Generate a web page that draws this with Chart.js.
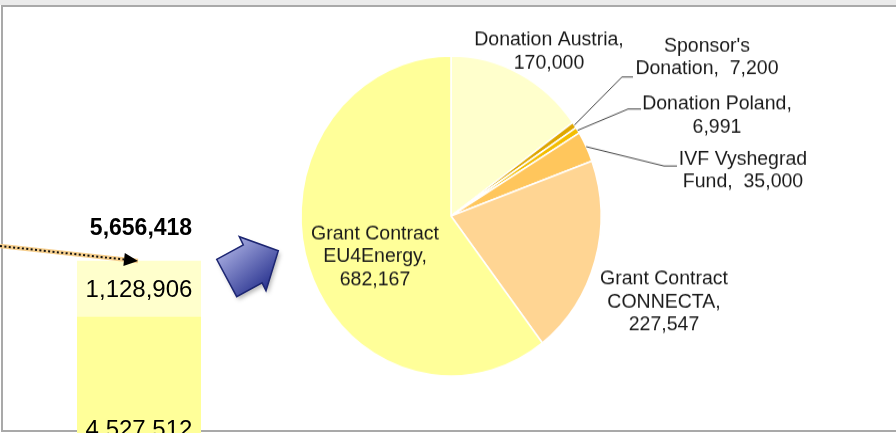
<!DOCTYPE html>
<html>
<head>
<meta charset="utf-8">
<script src="https://cdn.jsdelivr.net/npm/chart.js@4.4.1/dist/chart.umd.min.js"></script>
<style>
  html,body{margin:0;padding:0;background:#fff;}
  #wrap{position:relative;width:896px;height:433px;overflow:hidden;background:#fff;}
  #strip{position:absolute;left:0;top:0;width:896px;height:5px;background:#ebebeb;}
  #frame{position:absolute;left:1px;top:5px;width:1000px;height:423px;border:2px solid #a9a9a9;}
  #pieBox{position:absolute;left:0;top:0;width:896px;height:433px;transform:scaleY(1.067);transform-origin:451px 216px;}
  #barBox{position:absolute;left:0;top:0;width:896px;height:542px;}
</style>
</head>
<body>
<div id="wrap">
  <div id="strip"></div>
  <div id="frame"></div>
  <div id="pieBox"><canvas id="pieChart"></canvas></div>
  <div id="barBox"><canvas id="barChart"></canvas></div>
</div>
<script>
// pie data
const pieNames = ['Donation Austria', "Sponsor's\nDonation", 'Donation Poland', 'IVF Vyshegrad\nFund', 'Grant Contract\nCONNECTA', 'Grant Contract\nEU4Energy'];
const pieValues = [170000, 7200, 6991, 35000, 227547, 682167];
const valueInline = [false, true, false, true, false, false];
const pieColors = ['#ffffcc', '#dea600', '#f4bd00', '#ffc65c', '#ffd593', '#ffff99'];

// bar data (stacked, bottom first)
const barCategories = ['Total'];
const barLower = [4527512];
const barUpper = [1128906];

// layout of pie labels (page coords): centre x, first line y
const labelPos = [[549, 40], [707, 46], [717, 104], [743, 159], [664, 279], [375, 234]];
// leader lines: elbow x, elbow y, end x
const leaders = [null, [622, 77, 633], [628, 109, 641], [664, 166, 677], null, null];

const K = 1.067, CY = 216;
const fmt = v => v.toLocaleString('en-US');

const pieLabels = {
  id: 'pieLabels',
  afterDraw(chart) {
    const ctx = chart.ctx;
    const arcs = chart.getDatasetMeta(0).data;
    ctx.save();
    ctx.translate(0, CY); ctx.scale(1, 1 / K); ctx.translate(0, -CY);
    arcs.forEach((arc, i) => {
      const p = arc.getProps(['x', 'y', 'startAngle', 'endAngle', 'outerRadius']);
      const mid = (p.startAngle + p.endAngle) / 2;
      const sx = p.x + Math.cos(mid) * p.outerRadius;
      const sy = CY + (p.y + Math.sin(mid) * p.outerRadius - CY) * K;
      const ld = leaders[i];
      if (ld) {
        ctx.strokeStyle = '#404040'; ctx.lineWidth = 1;
        ctx.beginPath(); ctx.moveTo(sx, sy); ctx.lineTo(ld[0], ld[1]); ctx.lineTo(ld[2], ld[1]); ctx.stroke();
      }
      const txt = pieNames[i] + ',' + (valueInline[i] ? '  ' : '\n') + fmt(pieValues[i]);
      ctx.fillStyle = '#1a1a1a';
      ctx.font = '19.5px "Liberation Sans", Arial, sans-serif';
      ctx.textAlign = 'center'; ctx.textBaseline = 'middle';
      txt.split('\n').forEach((line, j) => ctx.fillText(line, labelPos[i][0], labelPos[i][1] + j * 23));
    });
    ctx.restore();
  }
};

new Chart(document.getElementById('pieChart'), {
  type: 'pie',
  data: {
    labels: pieNames,
    datasets: [{data: pieValues, backgroundColor: pieColors, borderColor: '#ffffff', borderWidth: 1.5, hoverOffset: 0}]
  },
  options: {
    responsive: true, maintainAspectRatio: false, animation: false, events: [],
    radius: 150,
    layout: {padding: {left: 301, right: 295, top: CY - 150, bottom: 433 - CY - 150}},
    plugins: {legend: {display: false}, tooltip: {enabled: false}}
  },
  plugins: [pieLabels]
});

const barExtras = {
  id: 'barExtras',
  afterDatasetsDraw(chart) {
    const ctx = chart.ctx;
    ctx.save();
    ctx.fillStyle = '#000'; ctx.textAlign = 'center'; ctx.textBaseline = 'middle';
    ctx.font = '24px "Liberation Sans", Arial, sans-serif';
    let top = null;
    chart.data.datasets.forEach((ds, d) => {
      chart.getDatasetMeta(d).data.forEach((bar, i) => {
        ctx.fillText(fmt(ds.data[i]), bar.x, (bar.y + bar.base) / 2 + 1);
        top = bar;
      });
    });
    const total = barLower[0] + barUpper[0];
    ctx.font = 'bold 23px "Liberation Sans", Arial, sans-serif';
    ctx.fillText(fmt(total), top.x + 2, top.y - 32);

    // dotted pointer
    const x0 = 0, y0 = 246, x1 = 138, y1 = 261;
    const ang = Math.atan2(y1 - y0, x1 - x0);
    const hx = x1 - Math.cos(ang) * 14, hy = y1 - Math.sin(ang) * 14;
    ctx.lineCap = 'butt';
    ctx.strokeStyle = '#f6cf8e'; ctx.lineWidth = 4.5;
    ctx.beginPath(); ctx.moveTo(x0, y0); ctx.lineTo(x1, y1); ctx.stroke();
    ctx.strokeStyle = '#111'; ctx.lineWidth = 2; ctx.setLineDash([2, 2.4]);
    ctx.beginPath(); ctx.moveTo(x0, y0); ctx.lineTo(hx, hy); ctx.stroke();
    ctx.setLineDash([]);
    ctx.fillStyle = '#000';
    ctx.beginPath();
    ctx.moveTo(x1, y1);
    ctx.lineTo(hx + Math.sin(ang) * 6.5, hy - Math.cos(ang) * 6.5);
    ctx.lineTo(hx - Math.sin(ang) * 6.5, hy + Math.cos(ang) * 6.5);
    ctx.closePath(); ctx.fill();

    // blue block arrow
    const pts = [[216.7, 259.3], [243.3, 244.9], [239.3, 236.7], [278.3, 250.7], [266, 290.7], [262.1, 282.9], [236.7, 296.7]];
    ctx.beginPath();
    pts.forEach((p, i) => i ? ctx.lineTo(p[0], p[1]) : ctx.moveTo(p[0], p[1]));
    ctx.closePath();
    const g = ctx.createLinearGradient(225, 245, 265, 292);
    g.addColorStop(0, '#a9aee2'); g.addColorStop(1, '#27318e');
    ctx.shadowColor = 'rgba(0,0,0,0.28)'; ctx.shadowBlur = 4; ctx.shadowOffsetX = 2; ctx.shadowOffsetY = 3;
    ctx.fillStyle = g; ctx.fill();
    ctx.shadowColor = 'transparent';
    ctx.strokeStyle = '#1d2672'; ctx.lineWidth = 1.5; ctx.lineJoin = 'miter'; ctx.stroke();
    ctx.restore();
  }
};

new Chart(document.getElementById('barChart'), {
  type: 'bar',
  data: {
    labels: barCategories,
    datasets: [
      {data: barLower, backgroundColor: '#ffff99', borderWidth: 0},
      {data: barUpper, backgroundColor: '#ffffcc', borderWidth: 0}
    ]
  },
  options: {
    responsive: true, maintainAspectRatio: false, animation: false, events: [],
    barPercentage: 1, categoryPercentage: 1,
    layout: {padding: {left: 77, right: 695, top: 244, bottom: 0}},
    scales: {
      x: {stacked: true, display: false},
      y: {stacked: true, display: false, min: 0, max: 6000000}
    },
    plugins: {legend: {display: false}, tooltip: {enabled: false}}
  },
  plugins: [barExtras]
});
</script>
</body>
</html>
